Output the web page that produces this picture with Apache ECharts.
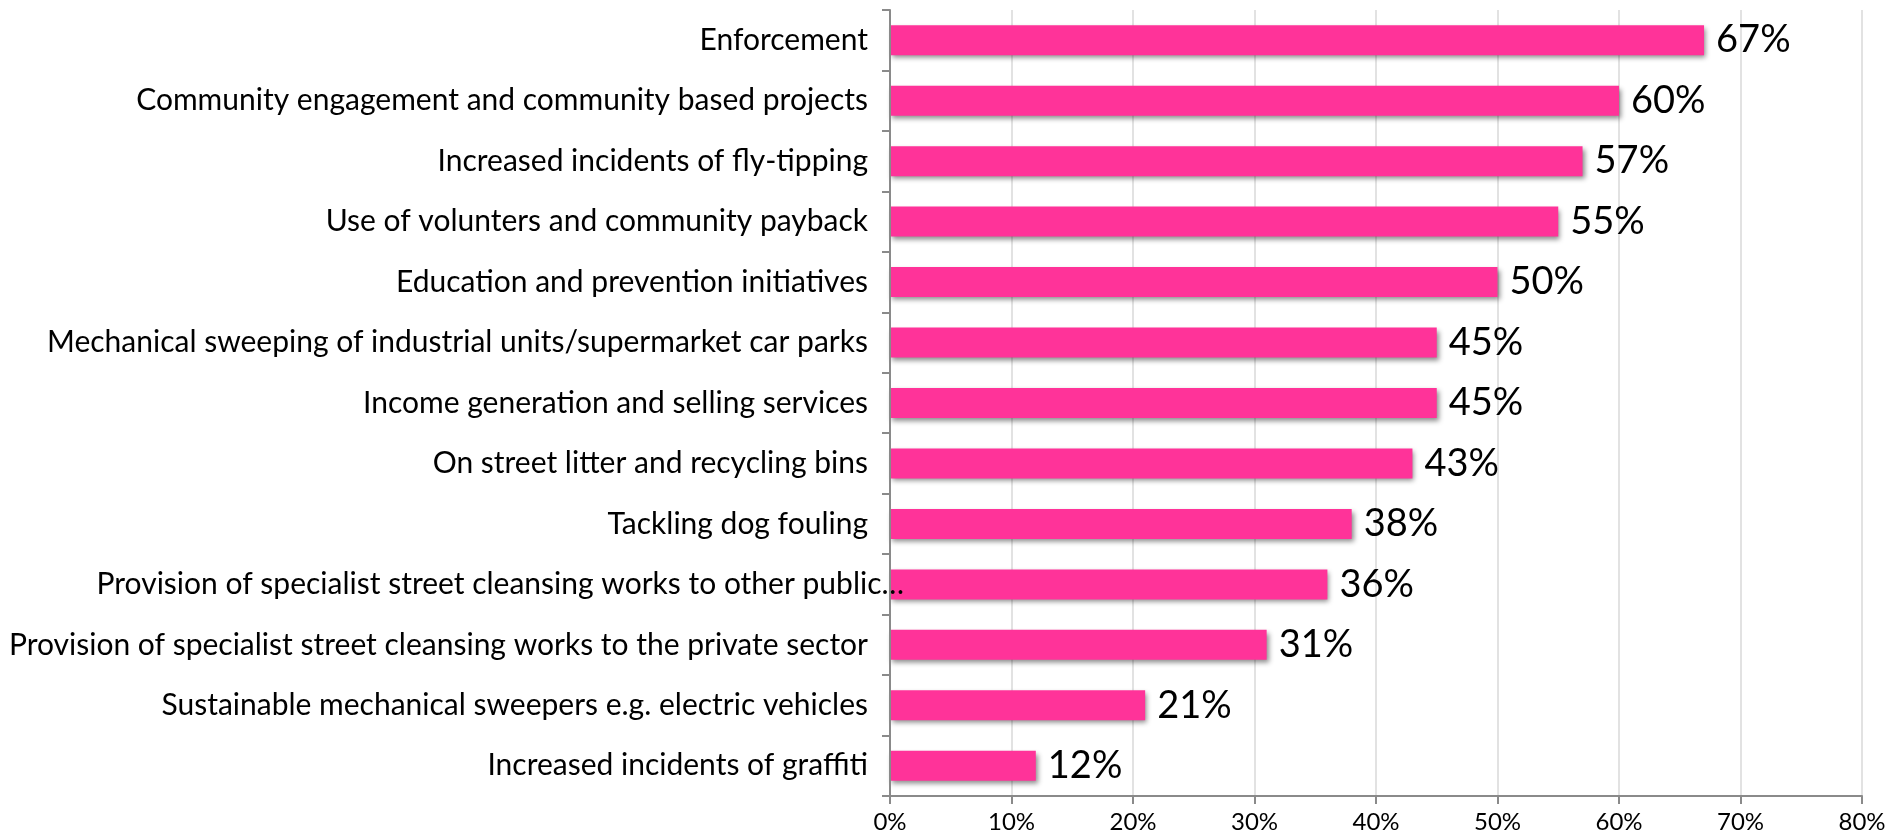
<!DOCTYPE html>
<html>
<head>
<meta charset="utf-8">
<title>Street cleansing priorities</title>
<script src="https://cdn.jsdelivr.net/npm/echarts@6/dist/echarts.min.js"></script>
<style>
  html, body { margin: 0; padding: 0; background: #ffffff; }
  #chart { width: 1889px; height: 839px; }
</style>
</head>
<body>
<div id="chart"></div>
<script>
// Survey topics, listed top to bottom
const categories = [
  'Enforcement',
  'Community engagement and community based projects',
  'Increased incidents of fly-tipping',
  'Use of volunters and community payback',
  'Education and prevention initiatives',
  'Mechanical sweeping of industrial units/supermarket car parks',
  'Income generation and selling services',
  'On street litter and recycling bins',
  'Tackling dog fouling',
  'Provision of specialist street cleansing works to other public\u2026',
  'Provision of specialist street cleansing works to the private sector',
  'Sustainable mechanical sweepers e.g. electric vehicles',
  'Increased incidents of graffiti'
];

// Share of respondents (%) per topic
const shares = [67, 60, 57, 55, 50, 45, 45, 43, 38, 36, 31, 21, 12];

// Percentage axis range and step
const axisMin = 0;
const axisMax = 80;
const axisStep = 10;

const FONT = 'Lato, "Open Sans", sans-serif';

// The truncated label runs on past the axis line, as in the source spreadsheet
const TRUNCATED = 'Provision of specialist street cleansing works to other public\u2026';
const yData = categories.map(function (name) {
  if (name === TRUNCATED) {
    return { value: name, textStyle: { padding: [0, -36, 0, 0] } };
  }
  return name;
});

const chart = echarts.init(document.getElementById('chart'), null, { renderer: 'canvas' });

chart.setOption({
  animation: false,
  backgroundColor: '#ffffff',
  grid: { left: 890, right: 27, top: 10, bottom: 43, containLabel: false },
  xAxis: {
    type: 'value',
    min: axisMin,
    max: axisMax,
    interval: axisStep,
    axisLine: { show: true, lineStyle: { color: '#8a8a8a', width: 2 } },
    axisTick: { show: true, length: 8, lineStyle: { color: '#8a8a8a', width: 2 } },
    splitLine: { show: true, lineStyle: { color: '#d9d9d9', width: 1.5 } },
    axisLabel: {
      formatter: '{value}%',
      color: '#000000',
      fontFamily: FONT,
      fontSize: 24,
      margin: 14
    }
  },
  yAxis: {
    type: 'category',
    inverse: true,
    data: yData,
    z: 3,
    axisLine: { show: true, lineStyle: { color: '#8a8a8a', width: 2 } },
    axisTick: { show: true, length: 8, alignWithLabel: false, lineStyle: { color: '#8a8a8a', width: 2 } },
    splitLine: { show: false },
    axisLabel: {
      color: '#000000',
      fontFamily: FONT,
      fontSize: 30,
      margin: 22
    }
  },
  series: [{
    type: 'bar',
    data: shares,
    barWidth: 30,
    itemStyle: {
      color: '#ff3399',
      shadowColor: 'rgba(0,0,0,0.45)',
      shadowBlur: 5,
      shadowOffsetX: 2,
      shadowOffsetY: 3
    },
    label: {
      show: true,
      position: 'right',
      distance: 12,
      formatter: '{c}%',
      color: '#000000',
      fontFamily: FONT,
      fontSize: 38
    }
  }]
});
</script>
</body>
</html>
